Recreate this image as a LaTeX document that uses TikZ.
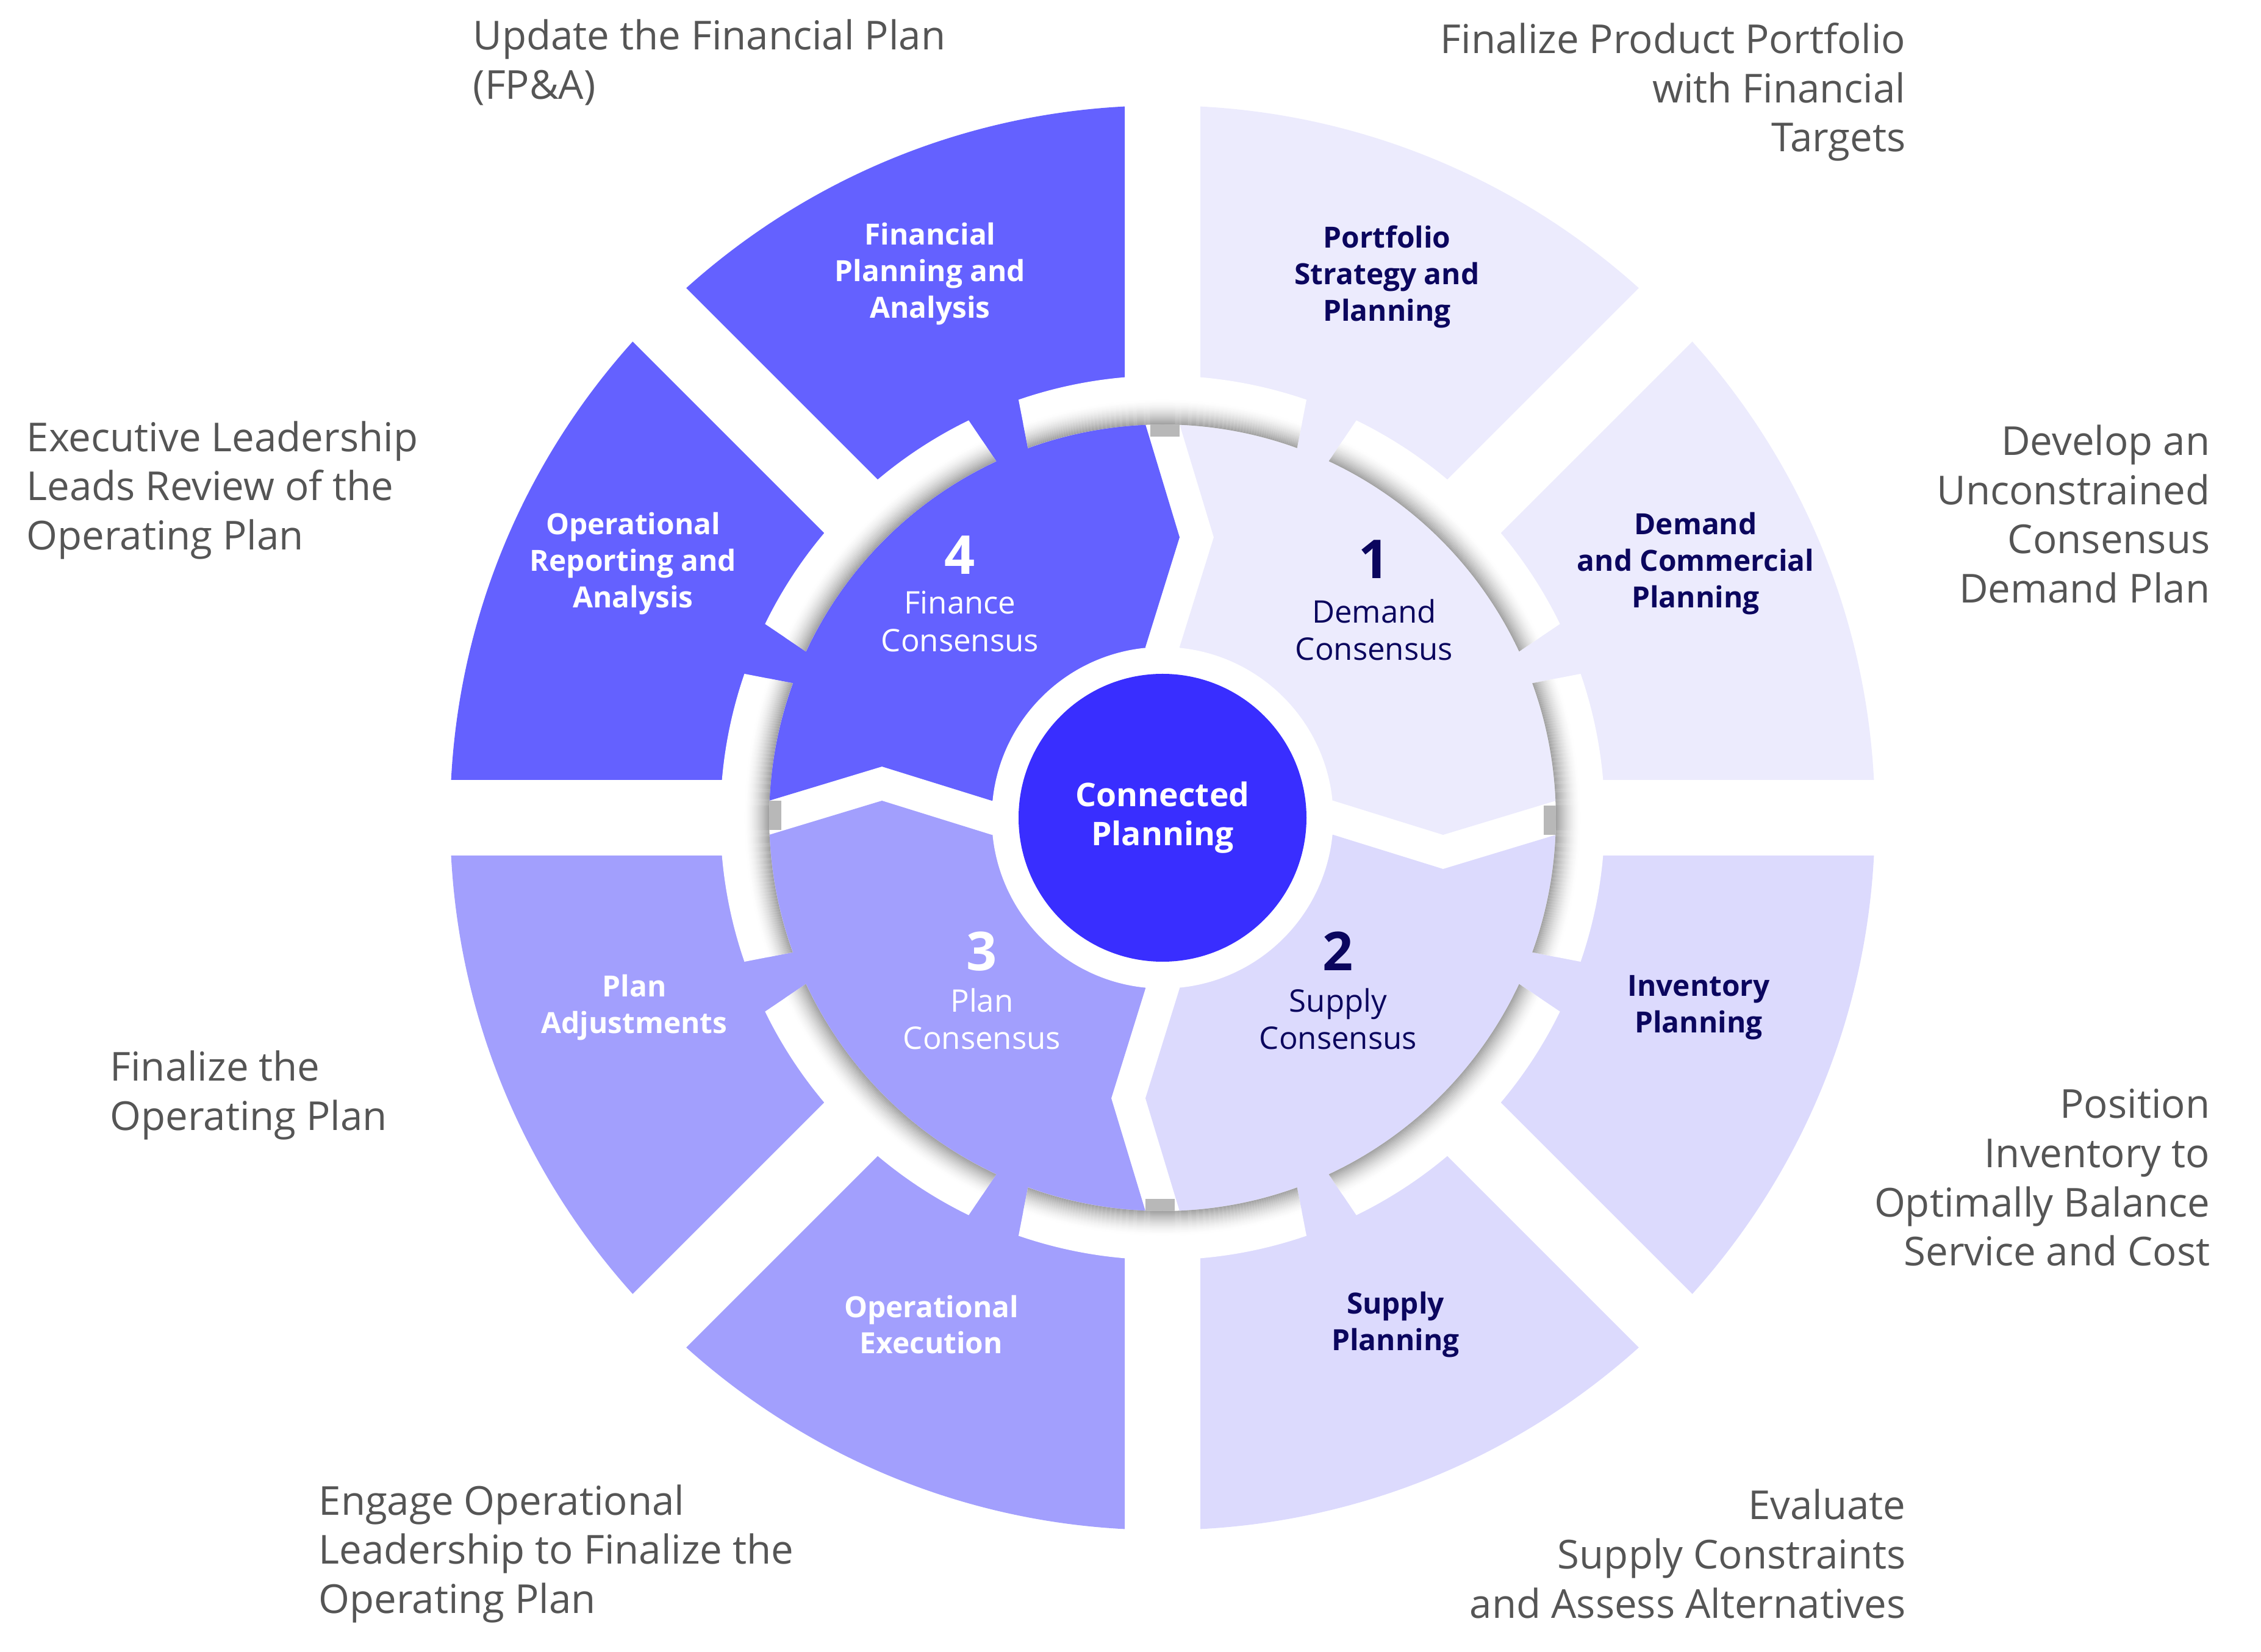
\documentclass[tikz,border=0pt]{standalone}
\usepackage{fontspec}
\setmainfont{Open Sans}
\usetikzlibrary{calc}
\definecolor{financeblue}{RGB}{100,97,255}
\definecolor{planblue}{RGB}{162,159,253}
\definecolor{supplylav}{RGB}{220,218,253}
\definecolor{demandlav}{RGB}{236,235,253}
\definecolor{corepurple}{RGB}{57,46,255}
\definecolor{inknavy}{RGB}{11,6,94}
\definecolor{notegray}{RGB}{85,85,85}
\tikzset{
  notelbl/.style={font=\fontsize{18.6}{23}\selectfont, text=notegray, inner sep=0pt},
  sectlbl/.style={font=\fontsize{13.6}{17}\selectfont\bfseries, align=center, inner sep=0pt},
  numlbl/.style={font=\fontsize{25}{30}\selectfont\bfseries, inner sep=0pt},
  quadlbl/.style={font=\fontsize{14.5}{17.4}\selectfont, align=center, inner sep=0pt},
}

\begin{document}
\begin{tikzpicture}
  \useasboundingbox (-19.06,-13.67) rectangle (18.01,13.41);

  % Quadrants, each joined to its two outer sectors
  \begin{scope}
    \clip (0,0) circle (11.68);
    \foreach \a/\col in {0/demandlav, 90/financeblue, 180/planblue, 270/supplylav}
      \fill[\col] (\a+45:0.4)
        -- ($(\a:2.8)+(\a+90:0.28)$) -- ($(\a:4.6)+(\a-90:0.28)$)
        -- ($(\a:6.45)+(\a+90:0.28)$) -- ($(\a:6.9)+(\a+90:0.28)$)
        -- ($(\a:6.9)+(\a+90:0.62)$) -- ($(\a:14)+(\a+90:0.62)$)
        -- (\a+45:20)
        -- ($(\a+90:14)+(\a:0.62)$) -- ($(\a+90:6.9)+(\a:0.62)$)
        -- ($(\a+90:6.9)+(\a:0.28)$) -- ($(\a+90:6.45)+(\a:0.28)$)
        -- ($(\a+90:4.6)+(\a:0.84)$) -- ($(\a+90:2.8)+(\a:0.28)$) -- cycle;
  \end{scope}
  % gaps between the two outer sectors of a quadrant
  \foreach \a in {45,135,225,315}
    \fill[white, rotate=\a] (6.9,-0.62) rectangle (12.5,0.62);

  % shadow under the ring where the quadrants meet
  \foreach \c in {0,90,180,270}
    \fill[black!28, rotate=\c] (6.25,-0.28) rectangle (6.47,0.2);

  % ring pieces with their inner shadow
  \foreach \c in {0,45,...,315} {
    \begin{scope}
      \clip (\c-20:6.45) arc[start angle=\c-20, end angle=\c+20, radius=6.45]
        -- (\c+19:7.25) arc[start angle=\c+19, end angle=\c-19, radius=7.25] -- cycle;
      \fill[white] (0,0) circle (7.4);
      \foreach \s in {0,...,19} {
        \pgfmathsetmacro{\rad}{6.46+0.02*\s}
        \pgfmathsetmacro{\amt}{36*(1-\s/20)^1.6}
        \draw[black!\amt, line width=0.21mm] (0,0) circle (\rad);
      }
    \end{scope}
  }

  % hub
  \fill[white] (0,0) circle (2.8);
  \node[circle, fill=corepurple, minimum size=4.72cm, inner sep=0pt, text=white,
        font=\fontsize{15.2}{18.2}\selectfont\bfseries, align=center]
        (core) at (0,0) {Connected\\Planning};

  % quadrant titles
  \node[numlbl, text=inknavy] (num1) at (3.47,4.24) {1};
  \node[quadlbl, text=inknavy] (demand) at (3.47,3.08) {Demand\\Consensus};
  \node[numlbl, text=inknavy] (num2) at (2.88,-2.19) {2};
  \node[quadlbl, text=inknavy] (supply) at (2.88,-3.30) {Supply\\Consensus};
  \node[numlbl, text=white] (num3) at (-2.96,-2.19) {3};
  \node[quadlbl, text=white] (plan) at (-2.96,-3.30) {Plan\\Consensus};
  \node[numlbl, text=white] (num4) at (-3.32,4.31) {4};
  \node[quadlbl, text=white] (finance) at (-3.32,3.22) {Finance\\Consensus};

  % outer sectors
  \node[sectlbl, text=inknavy] (portfolio) at (3.68,8.87) {Portfolio\\Strategy and\\Planning};
  \node[sectlbl, text=inknavy] (commercial) at (8.74,4.17) {Demand\\and Commercial\\Planning};
  \node[sectlbl, text=inknavy] (inventory) at (8.79,-3.11) {Inventory\\Planning};
  \node[sectlbl, text=inknavy] (supplyplan) at (3.82,-8.31) {Supply\\Planning};
  \node[sectlbl, text=white] (execution) at (-3.79,-8.31) {Operational\\Execution};
  \node[sectlbl, text=white] (adjust) at (-8.66,-3.11) {Plan\\Adjustments};
  \node[sectlbl, text=white] (reporting) at (-8.68,4.17) {Operational\\Reporting and\\Analysis};
  \node[sectlbl, text=white] (fpa) at (-3.81,8.92) {Financial\\Planning and\\Analysis};

  % notes around the wheel
  \node[notelbl, anchor=west, align=left] (notefpa) at (-11.31,12.39)
    {Update the Financial Plan\\(FP\&A)};
  \node[notelbl, anchor=east, align=right] (noteportfolio) at (12.19,11.90)
    {Finalize Product Portfolio\\with Financial\\Targets};
  \node[notelbl, anchor=east, align=right] (notedemand) at (17.18,4.98)
    {Develop an\\Unconstrained\\Consensus\\Demand Plan};
  \node[notelbl, anchor=east, align=right] (noteinventory) at (17.18,-5.90)
    {Position\\Inventory to\\Optimally Balance\\Service and Cost};
  \node[notelbl, anchor=east, align=right] (notesupply) at (12.19,-12.07)
    {Evaluate\\Supply Constraints\\and Assess Alternatives};
  \node[notelbl, anchor=west, align=left] (noteexecution) at (-13.84,-12.07)
    {Engage Operational\\Leadership to Finalize the\\Operating Plan};
  \node[notelbl, anchor=west, align=left] (noteadjust) at (-17.26,-4.55)
    {Finalize the\\Operating Plan};
  \node[notelbl, anchor=west, align=left] (notereporting) at (-18.63,5.37)
    {Executive Leadership\\Leads Review of the\\Operating Plan};
\end{tikzpicture}
\end{document}
